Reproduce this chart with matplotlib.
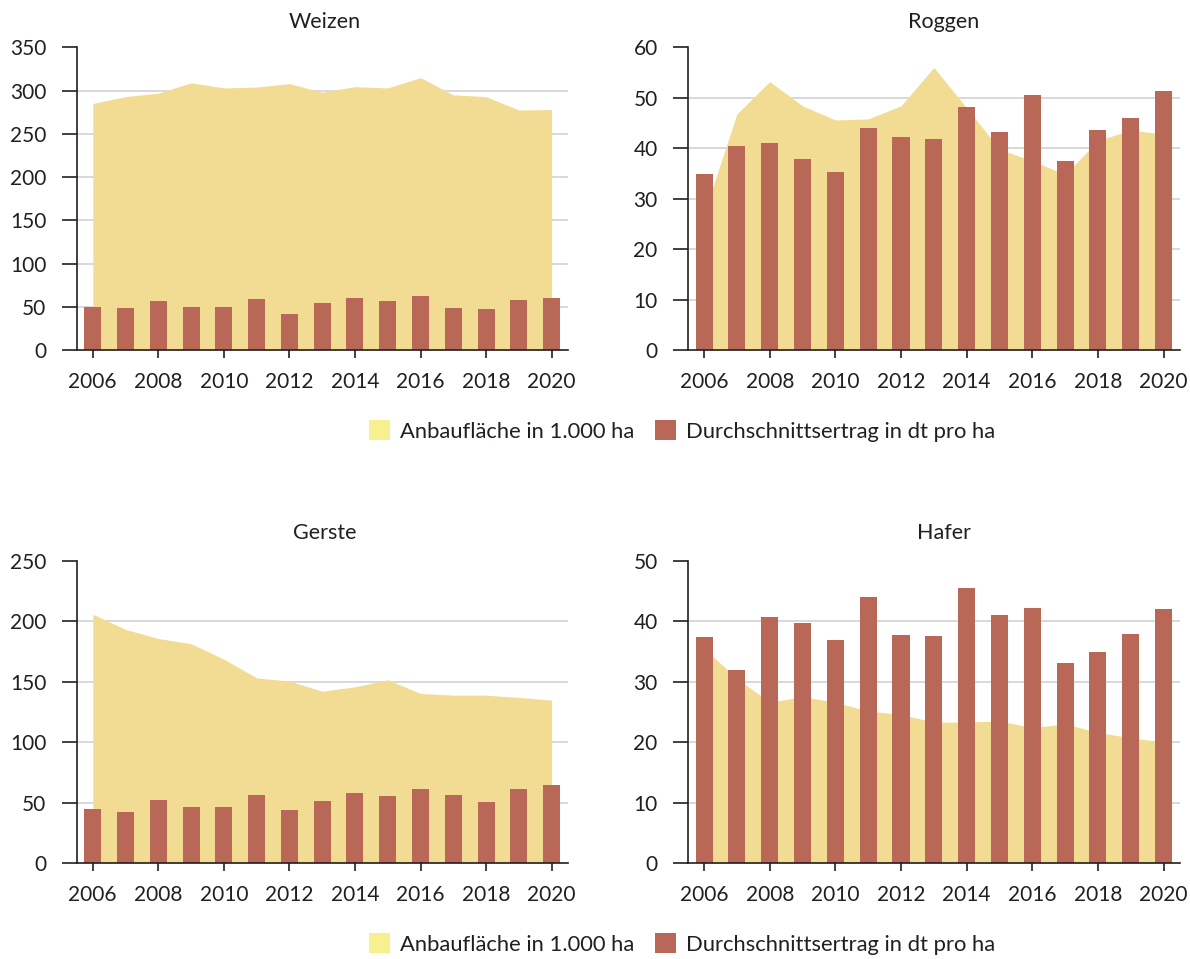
import matplotlib
matplotlib.use('Agg')
import matplotlib.pyplot as plt
from matplotlib.patches import Patch

years = list(range(2006, 2021))
tick_years = list(range(2006, 2021, 2))

weizen_flaeche = [285, 293, 297, 309, 303, 304, 308, 298, 304.5, 303, 315, 295, 293, 277.5, 278]
weizen_ertrag = [49.8, 48.6, 56.7, 50, 50, 59, 41.7, 54.4, 60.2, 56.7, 62.5, 48.6, 47.5, 57.9, 60.2]
roggen_flaeche = [27, 46.8, 53.2, 48.4, 45.6, 45.8, 48.4, 56.0, 48, 39.8, 37.5, 34.8, 41.5, 43.6, 42.8]
roggen_ertrag = [34.9, 40.5, 41.1, 37.9, 35.3, 44.0, 42.3, 41.9, 48.2, 43.3, 50.6, 37.5, 43.7, 46.0, 51.4]
gerste_flaeche = [205.8, 193.2, 185.7, 181.3, 168.6, 153.1, 150.4, 142.1, 145.7, 151.5, 140.2, 138.8, 138.8, 136.9, 134.7]
gerste_ertrag = [44.4, 41.9, 51.9, 46.1, 46.1, 56.0, 43.6, 51.0, 57.7, 55.2, 61.0, 56.0, 50.2, 61.0, 64.3]
hafer_flaeche = [35.5, 30.5, 26.6, 27.5, 26.6, 25.1, 24.6, 23.3, 23.3, 23.5, 22.4, 23.0, 21.6, 20.7, 20.0]
hafer_ertrag = [37.4, 31.9, 40.7, 39.7, 36.9, 44.0, 37.7, 37.5, 45.5, 41.0, 42.2, 33.1, 34.9, 37.9, 42.0]

titles = ["Weizen", "Roggen", "Gerste", "Hafer"]
ymaxes = [350, 60, 250, 50]
ysteps = [50, 10, 50, 10]
legend_labels = ["Anbaufläche in 1.000 ha", "Durchschnittsertrag in dt pro ha"]

AREA = '#F2DC93'
BAR = '#B96756'
LEG_YELLOW = '#F6F08E'
DARK = '#231F20'
GRID = '#D6D6D6'

plt.rcParams['font.family'] = ['Lato', 'DejaVu Sans']

W, H = 1190, 959
fig = plt.figure(figsize=(W / 100, H / 100), dpi=100)

# axes boxes in pixels: left, top, right, bottom
boxes = [(77, 47.3, 568, 350), (688.3, 47.3, 1180, 350),
         (77, 560.7, 568, 863), (688.3, 560.7, 1180, 863)]
title_pos = [(325, 22), (944, 22), (325, 533), (944, 533)]
data = [(weizen_flaeche, weizen_ertrag), (roggen_flaeche, roggen_ertrag),
        (gerste_flaeche, gerste_ertrag), (hafer_flaeche, hafer_ertrag)]

for i in range(4):
    l, t, r, b = boxes[i]
    ax = fig.add_axes([l / W, 1 - b / H, (r - l) / W, (b - t) / H])
    fl, er = data[i]
    ax.fill_between(years, fl, 0, color=AREA, linewidth=0, zorder=1)
    ax.bar(years, er, width=0.52, color=BAR, linewidth=0, zorder=2)
    ax.set_xlim(2005.52, 2020.5)
    ax.set_ylim(0, ymaxes[i])
    yt = list(range(0, ymaxes[i] + 1, ysteps[i]))
    ax.set_yticks(yt)
    for v in yt[1:-1]:
        ax.axhline(v, color=GRID, linewidth=1.3, zorder=0.5)
    ax.set_xticks(tick_years)
    for s in ['top', 'right']:
        ax.spines[s].set_visible(False)
    for s in ['left', 'bottom']:
        ax.spines[s].set_color(DARK)
        ax.spines[s].set_linewidth(1.2)
        ax.spines[s].set_zorder(3)
    ax.tick_params(axis='y', direction='out', length=11, width=1.2, color=DARK,
                   pad=11, labelsize=15, labelcolor=DARK)
    ax.tick_params(axis='x', direction='out', length=6, width=1.2, color=DARK,
                   pad=10, labelsize=15, labelcolor=DARK)
    ax.set_facecolor('none')
    tx, ty = title_pos[i]
    fig.text(tx / W, 1 - ty / H, titles[i], ha='center', va='center',
             fontsize=15.5, color=DARK)

handles = [Patch(facecolor=LEG_YELLOW, edgecolor='none'),
           Patch(facecolor=BAR, edgecolor='none')]
for ycen in [431, 944]:
    fig.legend(handles, legend_labels, loc='center left',
               bbox_to_anchor=(369 / W, 1 - ycen / H), ncol=2, frameon=False,
               fontsize=15.8, handlelength=0.96, handleheight=0.96,
               handletextpad=0.45, columnspacing=0.95, borderpad=0,
               borderaxespad=0, labelcolor=DARK)

fig.savefig('out.png', dpi=100)
